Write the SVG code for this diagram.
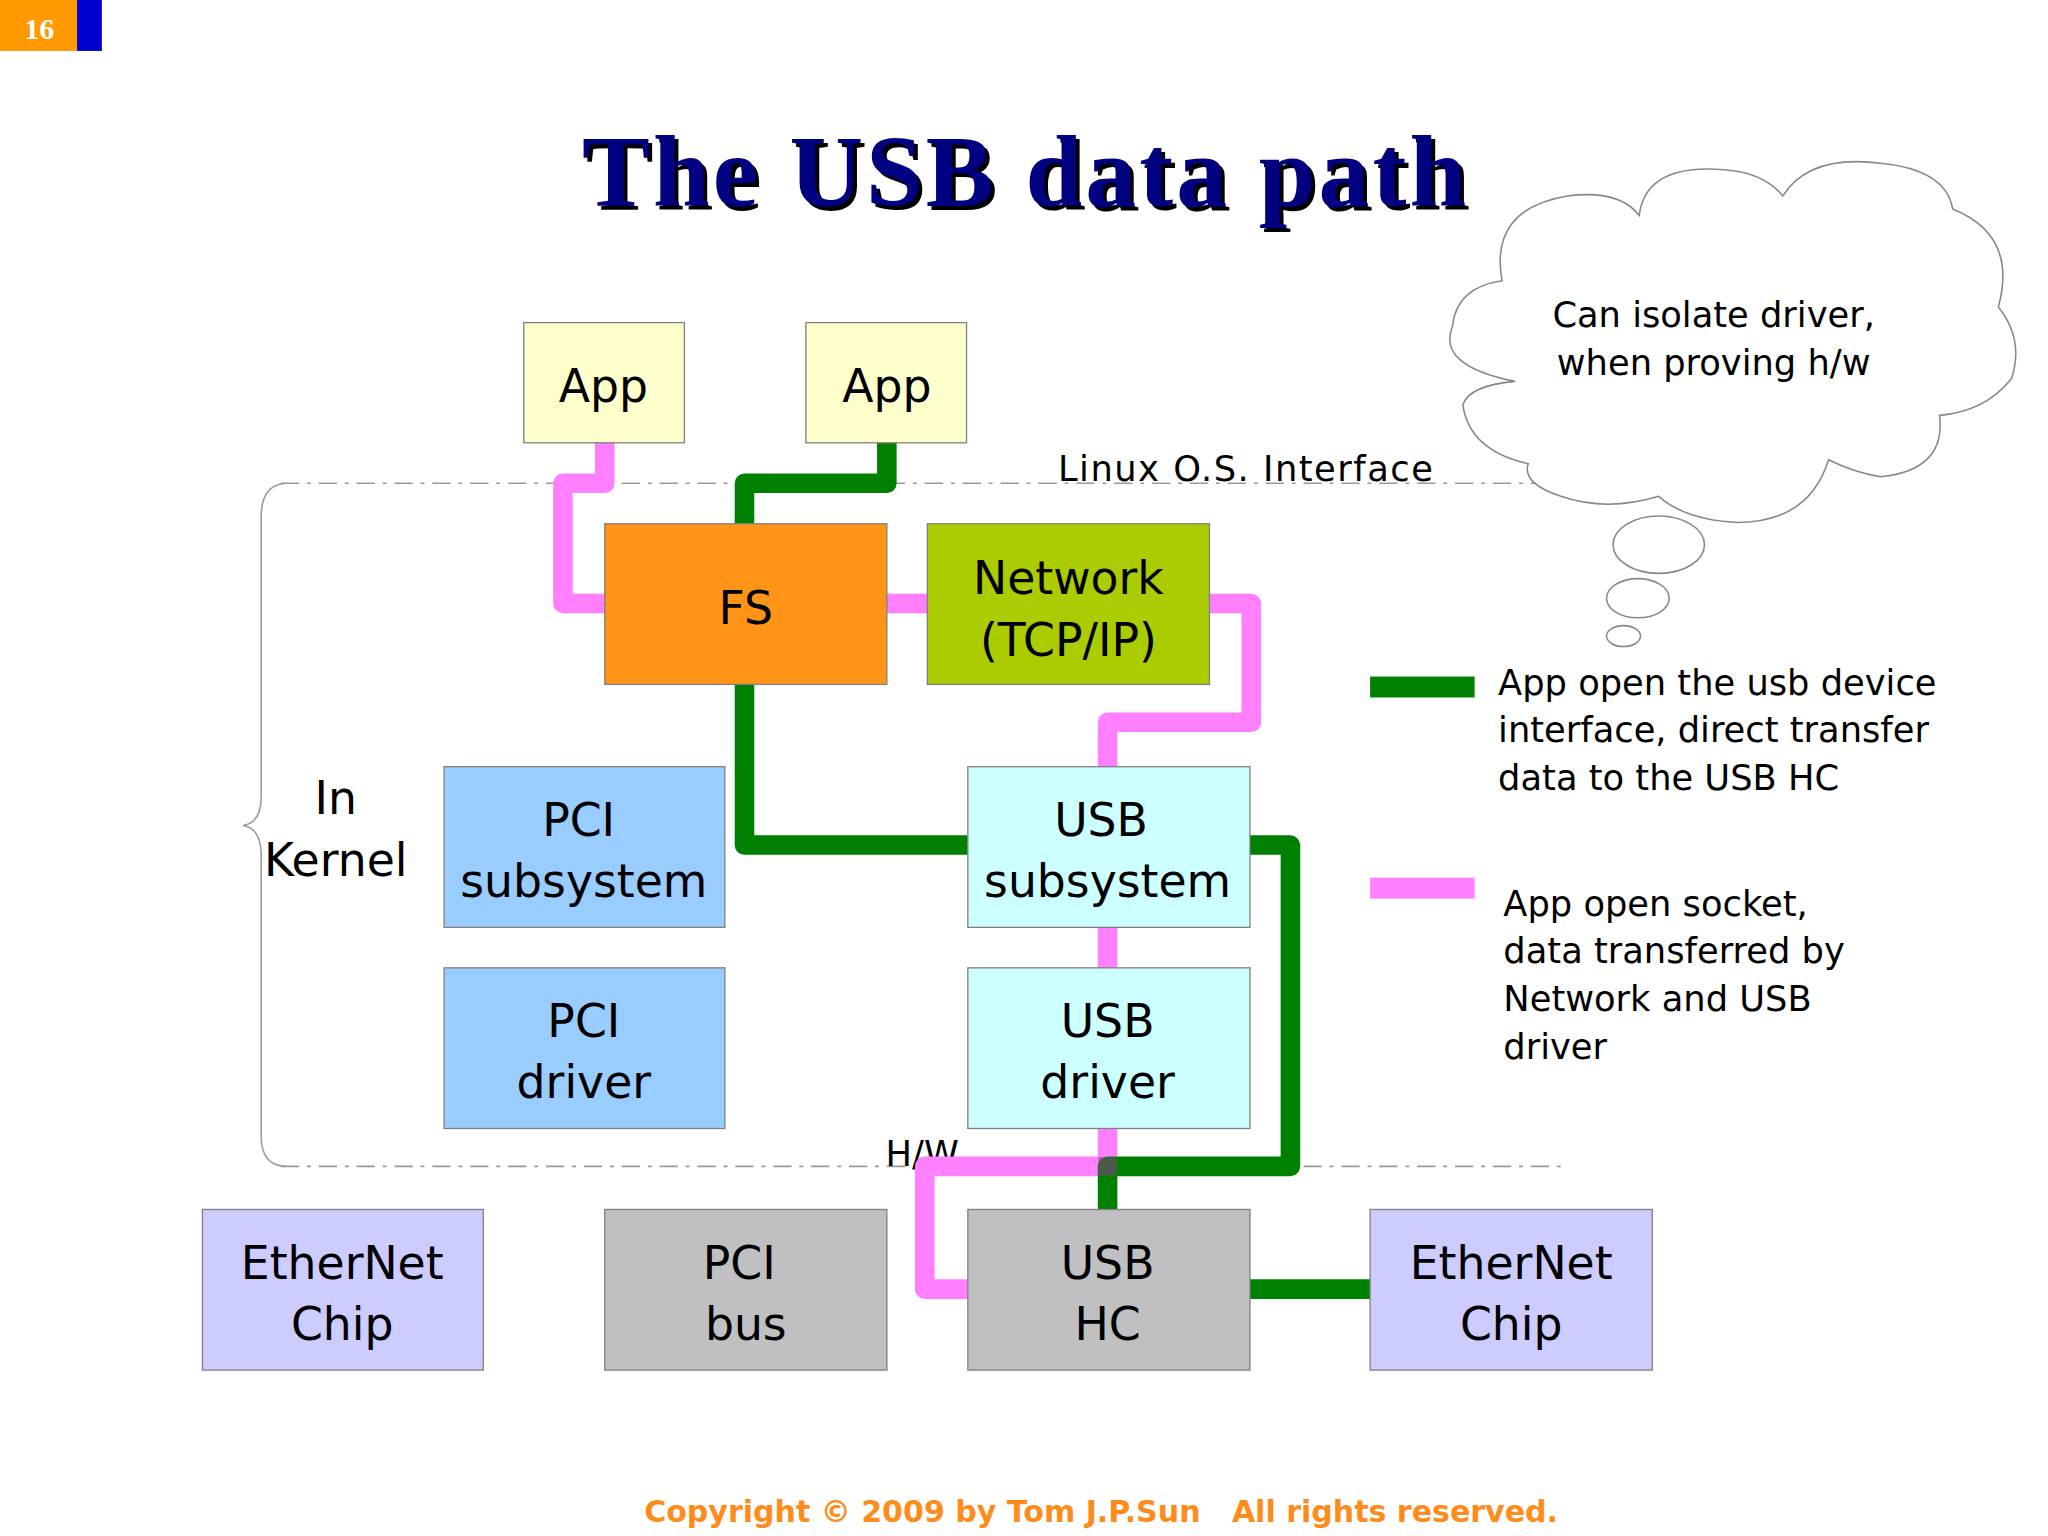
<svg xmlns="http://www.w3.org/2000/svg" width="2048" height="1536" viewBox="0 0 2048 1536">
<style>
.box{stroke:#808080;stroke-width:1}
.t{font-family:"DejaVu Sans",sans-serif;font-size:35px;fill:#000;text-anchor:middle}
.s{font-family:"DejaVu Sans",sans-serif;font-size:27px;fill:#000}
.g{fill:none;stroke:#008000;stroke-width:15;stroke-linejoin:round}
.p{fill:none;stroke:#ff80ff;stroke-width:15;stroke-linejoin:round}
.d{stroke:#999;stroke-width:1.2;stroke-dasharray:14 6 3 6;fill:none}
</style>
<rect width="2048" height="1536" fill="#fff"/>
<g transform="scale(1.30612)">
<rect x="0" y="0" width="59" height="39" fill="#ff9900"/>
<rect x="59" y="0" width="19" height="39" fill="#0000cc"/>
<text x="30" y="30" font-family="Liberation Serif,serif" font-weight="bold" font-size="23" fill="#fff" text-anchor="middle">16</text>
<text x="787" y="161" font-family="Liberation Serif,serif" font-weight="bold" font-size="78" fill="#000" text-anchor="middle" textLength="677">The USB data path</text>
<text x="784" y="158" font-family="Liberation Serif,serif" font-weight="bold" font-size="78" fill="#000080" text-anchor="middle" textLength="677">The USB data path</text>

<g id="frame">
<path class="d" d="M215 370 H1180 M215 893 H1195"/>
<path d="M218 370 Q200 372 200 395 V610 Q200 630 186 632 Q200 634 200 655 V870 Q200 892 218 893" fill="none" stroke="#999" stroke-width="1.2"/>
<text class="s" x="810" y="368" font-size="30" textLength="287">Linux O.S. Interface</text>
<text class="s" x="678" y="893" font-size="30">H/W</text>
<text class="t" x="257" y="623">In</text>
<text class="t" x="257" y="671">Kernel</text>
</g>

<g id="connectors">
<path class="p" d="M463 339 V370 H431 V462 H463 M679 462 H710 M926 462 H958 V553 H848 V587 M848 710 V741 M848 864 V893 H708 V987 H741"/>
<path class="g" d="M679 339 V370 H570 V401 M570 524 V647 H741 M957 647 H988 V893 H848 V926 M957 987 H1049"/>
<rect x="841" y="886" width="14" height="14" fill="#804080" opacity="0.6"/>
</g>

<g id="app1"><rect class="box" x="401" y="247" width="123" height="92" fill="#ffffcc"/><text class="t" x="462" y="308">App</text></g>
<g id="app2"><rect class="box" x="617" y="247" width="123" height="92" fill="#ffffcc"/><text class="t" x="679" y="308">App</text></g>
<g id="fs"><rect class="box" x="463" y="401" width="216" height="123" fill="#ff9416"/><text class="t" x="571" y="478">FS</text></g>
<g id="network"><rect class="box" x="710" y="401" width="216" height="123" fill="#aacc00"/><text class="t" x="818" y="455">Network</text><text class="t" x="818" y="502">(TCP/IP)</text></g>
<g id="pcisub"><rect class="box" x="340" y="587" width="215" height="123" fill="#99ccff"/><text class="t" x="443" y="640">PCI</text><text class="t" x="447" y="687">subsystem</text></g>
<g id="pcidrv"><rect class="box" x="340" y="741" width="215" height="123" fill="#99ccff"/><text class="t" x="447" y="794">PCI</text><text class="t" x="447" y="841">driver</text></g>
<g id="usbsub"><rect class="box" x="741" y="587" width="216" height="123" fill="#ccffff"/><text class="t" x="843" y="640">USB</text><text class="t" x="848" y="687">subsystem</text></g>
<g id="usbdrv"><rect class="box" x="741" y="741" width="216" height="123" fill="#ccffff"/><text class="t" x="848" y="794">USB</text><text class="t" x="848" y="841">driver</text></g>
<g id="eth1"><rect class="box" x="155" y="926" width="215" height="123" fill="#ccccff"/><text class="t" x="262" y="979">EtherNet</text><text class="t" x="262" y="1026">Chip</text></g>
<g id="pcibus"><rect class="box" x="463" y="926" width="216" height="123" fill="#c0bfc2"/><text class="t" x="566" y="979">PCI</text><text class="t" x="571" y="1026">bus</text></g>
<g id="usbhc"><rect class="box" x="741" y="926" width="216" height="123" fill="#c0bfc2"/><text class="t" x="848" y="979">USB</text><text class="t" x="848" y="1026">HC</text></g>
<g id="eth2"><rect class="box" x="1049" y="926" width="216" height="123" fill="#ccccff"/><text class="t" x="1157" y="979">EtherNet</text><text class="t" x="1157" y="1026">Chip</text></g>

<g id="legend">
<rect x="1049" y="518" width="80" height="16" fill="#008000"/>
<text class="s" x="1147" y="532">App open the usb device</text>
<text class="s" x="1147" y="568">interface, direct transfer</text>
<text class="s" x="1147" y="605">data to the USB HC</text>
<rect x="1049" y="672" width="80" height="16" fill="#ff80ff"/>
<text class="s" x="1151" y="701">App open socket,</text>
<text class="s" x="1151" y="737">data transferred by</text>
<text class="s" x="1151" y="774">Network and USB</text>
<text class="s" x="1151" y="811">driver</text>
</g>

<g id="cloud" fill="#fff" stroke="#888" stroke-width="1.2">
<path d="M1160 292 Q1100 280 1112 250 Q1115 220 1150 215 Q1140 160 1200 150 Q1240 145 1255 165 Q1260 125 1320 130 Q1350 132 1365 150 Q1385 118 1440 125 Q1490 130 1495 160 Q1545 180 1530 235 Q1550 260 1540 290 Q1520 315 1485 318 Q1490 360 1440 365 Q1420 362 1400 352 Q1385 400 1330 400 Q1290 398 1270 380 Q1230 392 1195 380 Q1165 370 1170 355 Q1125 345 1120 310 Q1125 295 1160 292 Z"/>
<ellipse cx="1270" cy="417" rx="35" ry="22"/>
<ellipse cx="1254" cy="458" rx="24" ry="15"/>
<ellipse cx="1243" cy="487" rx="13" ry="8"/>
<text class="s" x="1312" y="250" text-anchor="middle" stroke="none">Can isolate driver,</text>
<text class="s" x="1312" y="287" text-anchor="middle" stroke="none">when proving h/w</text>
</g>

<text x="843" y="1165" font-family="DejaVu Sans,sans-serif" font-weight="bold" font-size="23" fill="#ff8c1a" text-anchor="middle" xml:space="preserve">Copyright © 2009 by Tom J.P.Sun   All rights reserved.</text>
</g>
</svg>
